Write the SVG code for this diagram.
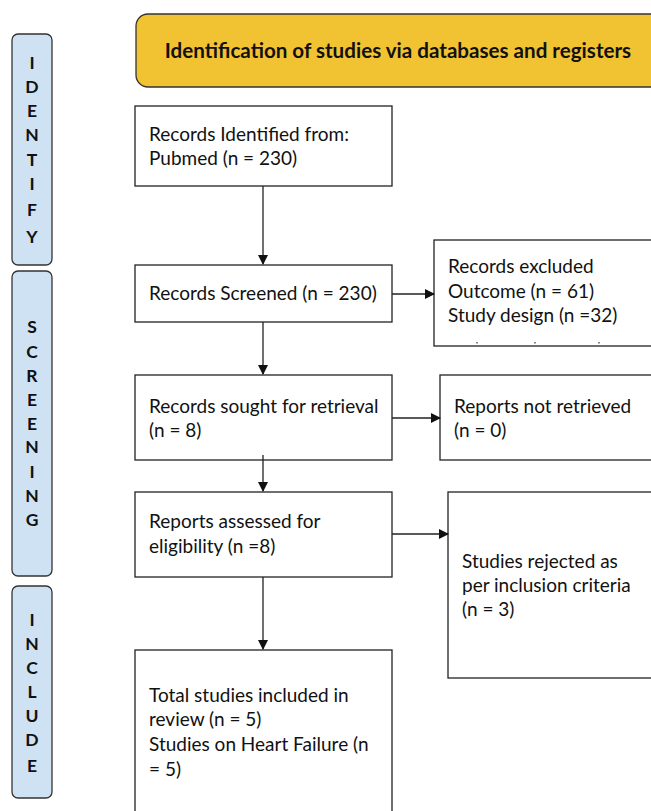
<svg xmlns="http://www.w3.org/2000/svg" width="651" height="811" viewBox="0 0 651 811">
<style>
.box{fill:#ffffff;stroke:#222;stroke-width:1.3}
.side{fill:#CFE2F3;stroke:#333;stroke-width:1.3}
.banner{fill:#F1C232;stroke:#333;stroke-width:1.3}
.t{font-family:Lato,"Liberation Sans",sans-serif;font-size:19px;fill:#111}
.b{font-family:Lato,"Liberation Sans",sans-serif;font-size:20.6px;font-weight:bold;fill:#111}
.s{font-family:Lato,"Liberation Sans",sans-serif;font-size:17.5px;font-weight:bold;fill:#111;text-anchor:middle}
.c{stroke:#222;stroke-width:1.3;fill:none}
</style>
<defs>
<marker id="ah" markerWidth="10" markerHeight="10" refX="9" refY="5" orient="auto" markerUnits="userSpaceOnUse">
<path d="M0,0 L10,5 L0,10 z" fill="#111"/>
</marker>
</defs>
<rect width="651" height="811" fill="#ffffff"/>

<g id="banner">
<rect class="banner" x="136" y="14" width="540" height="73" rx="12"/>
<text class="b" x="398" y="58" text-anchor="middle">Identification of studies via databases and registers</text>
</g>

<g id="side-identify">
<rect class="side" x="12" y="34" width="40" height="231" rx="6"/>
<text class="s" x="32" y="69">I</text>
<text class="s" x="32" y="93">D</text>
<text class="s" x="32" y="117">E</text>
<text class="s" x="32" y="141">N</text>
<text class="s" x="32" y="166">T</text>
<text class="s" x="32" y="190">I</text>
<text class="s" x="32" y="216">F</text>
<text class="s" x="32" y="243">Y</text>
</g>

<g id="side-screening">
<rect class="side" x="12" y="271" width="40" height="305" rx="6"/>
<text class="s" x="32" y="333">S</text>
<text class="s" x="32" y="358">C</text>
<text class="s" x="32" y="382">R</text>
<text class="s" x="32" y="406">E</text>
<text class="s" x="32" y="430">E</text>
<text class="s" x="32" y="453">N</text>
<text class="s" x="32" y="478">I</text>
<text class="s" x="32" y="502">N</text>
<text class="s" x="32" y="526">G</text>
</g>

<g id="side-include">
<rect class="side" x="12" y="586" width="40" height="212" rx="6"/>
<text class="s" x="32" y="626">I</text>
<text class="s" x="32" y="650">N</text>
<text class="s" x="32" y="674">C</text>
<text class="s" x="32" y="698">L</text>
<text class="s" x="32" y="722">U</text>
<text class="s" x="32" y="746">D</text>
<text class="s" x="32" y="772">E</text>
</g>

<g id="identified">
<rect class="box" x="135" y="106" width="257" height="80"/>
<text class="t" x="149" y="141">Records Identified from:</text>
<text class="t" x="149" y="165">Pubmed (n = 230)</text>
</g>

<g id="screened">
<rect class="box" x="135" y="265" width="257" height="57"/>
<text class="t" x="149" y="300">Records Screened (n = 230)</text>
</g>

<g id="excluded">
<rect class="box" x="434" y="240" width="240" height="106"/>
<text class="t" x="448" y="273">Records excluded</text>
<text class="t" x="448" y="298">Outcome (n = 61)</text>
<text class="t" x="448" y="322">Study design (n =32)</text>
<path d="M477,342v1.5M535,342v1.5M599,342v1.5" stroke="#444" stroke-width="1.3"/>
</g>

<g id="sought">
<rect class="box" x="135" y="375" width="257" height="85"/>
<text class="t" x="149" y="413">Records sought for retrieval</text>
<text class="t" x="149" y="437">(n = 8)</text>
</g>

<g id="notretrieved">
<rect class="box" x="440" y="375" width="240" height="85"/>
<text class="t" x="454" y="413">Reports not retrieved</text>
<text class="t" x="454" y="437">(n = 0)</text>
</g>

<g id="assessed">
<rect class="box" x="135" y="492" width="257" height="85"/>
<text class="t" x="149" y="528">Reports assessed for</text>
<text class="t" x="149" y="553">eligibility (n =8)</text>
</g>

<g id="rejected">
<rect class="box" x="448" y="492" width="230" height="186"/>
<text class="t" x="462" y="568">Studies rejected as</text>
<text class="t" x="462" y="592">per inclusion criteria</text>
<text class="t" x="462" y="616">(n = 3)</text>
</g>

<g id="included">
<rect class="box" x="135" y="650" width="257" height="180"/>
<text class="t" x="149" y="702">Total studies included in</text>
<text class="t" x="149" y="726">review (n = 5)</text>
<text class="t" x="149" y="751">Studies on Heart Failure (n</text>
<text class="t" x="149" y="776">= 5)</text>
</g>

<g id="connectors">
<line class="c" x1="263" y1="186" x2="263" y2="264" marker-end="url(#ah)"/>
<line class="c" x1="392" y1="294" x2="434" y2="294" marker-end="url(#ah)"/>
<line class="c" x1="263" y1="322" x2="263" y2="374" marker-end="url(#ah)"/>
<line class="c" x1="392" y1="418" x2="440" y2="418" marker-end="url(#ah)"/>
<line class="c" x1="263" y1="455" x2="263" y2="491" marker-end="url(#ah)"/>
<line class="c" x1="392" y1="534" x2="448" y2="534" marker-end="url(#ah)"/>
<line class="c" x1="263" y1="577" x2="263" y2="649" marker-end="url(#ah)"/>
</g>
</svg>
